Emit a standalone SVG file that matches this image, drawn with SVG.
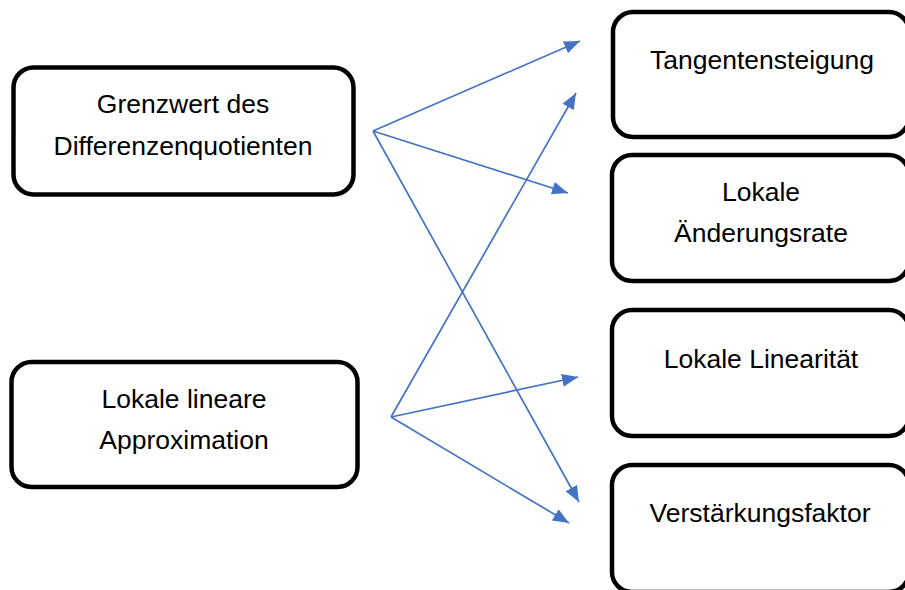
<svg xmlns="http://www.w3.org/2000/svg" width="905" height="590" viewBox="0 0 905 590">
<style>
.box{fill:#fff;stroke:#000;stroke-width:4.5}
.t{font-family:"Liberation Sans",Arial,sans-serif;font-size:26.5px;fill:#000;text-anchor:middle}
.c{stroke:#4472C4;stroke-width:1.7;fill:none;marker-end:url(#ah)}
</style>
<defs>
<marker id="ah" markerUnits="userSpaceOnUse" markerWidth="17" markerHeight="14" refX="16" refY="7" orient="auto" viewBox="0 0 17 14">
<path d="M0,0.5 L16,7 L0,13.5 z" fill="#4472C4"/>
</marker>
</defs>
<rect width="905" height="590" fill="#fff"/>
<g id="n1"><rect class="box" x="13.5" y="67.5" width="340" height="127" rx="20"/>
<text class="t" x="183" y="113">Grenzwert des</text><text class="t" x="183" y="155">Differenzenquotienten</text></g>
<g id="n2"><rect class="box" x="11.5" y="362" width="346" height="125" rx="20"/>
<text class="t" x="184" y="408">Lokale lineare</text><text class="t" x="184" y="449">Approximation</text></g>
<g id="n3"><rect class="box" x="613" y="12" width="296" height="125" rx="20"/>
<text class="t" x="762" y="69">Tangentensteigung</text></g>
<g id="n4"><rect class="box" x="612" y="155" width="297" height="126" rx="20"/>
<text class="t" x="761" y="201">Lokale</text><text class="t" x="761" y="242">Änderungsrate</text></g>
<g id="n5"><rect class="box" x="612" y="310" width="297" height="126" rx="20"/>
<text class="t" x="761" y="368">Lokale Linearität</text></g>
<g id="n6"><rect class="box" x="612" y="465" width="297" height="127" rx="20"/>
<text class="t" x="760" y="522">Verstärkungsfaktor</text></g>
<g id="connectors">
<line class="c" x1="373" y1="131" x2="580" y2="41"/>
<line class="c" x1="373" y1="131" x2="568" y2="193"/>
<line class="c" x1="373" y1="131" x2="579" y2="502"/>
<line class="c" x1="391" y1="417" x2="576" y2="93"/>
<line class="c" x1="391" y1="417" x2="578" y2="377"/>
<line class="c" x1="391" y1="417" x2="569" y2="523"/>
</g>
</svg>
